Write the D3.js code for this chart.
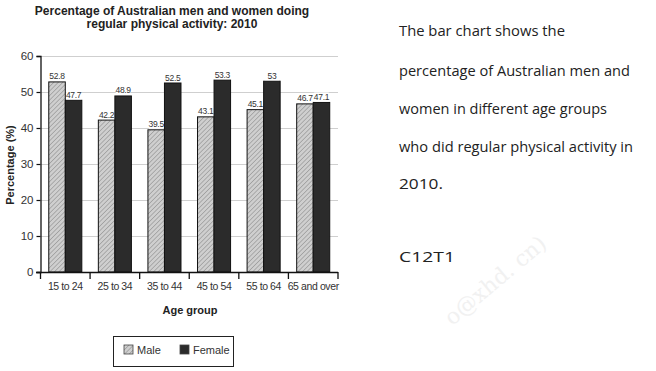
<!DOCTYPE html>
<html><head><meta charset="utf-8">
<script src="https://cdn.jsdelivr.net/npm/d3@7"></script>
<style>body{margin:0;background:#fff;} svg{display:block;} text{font-family:'Liberation Sans', Arial, sans-serif;}</style>
</head><body>
<svg id="c" width="656" height="371"></svg>
<script>
const categories = ["15 to 24","25 to 34","35 to 44","45 to 54","55 to 64","65 and over"];
const seriesNames = ["Male","Female"];
const maleValues = [52.8,42.2,39.5,43.1,45.1,46.7];
const femaleValues = [47.7,48.9,52.5,53.3,53,47.1];
const valueLabels = [["52.8","47.7"],["42.2","48.9"],["39.5","52.5"],["43.1","53.3"],["45.1","53"],["46.7","47.1"]];
const yTicks = [0,10,20,30,40,50,60];
const titleLines = ["Percentage of Australian men and women doing","regular physical activity: 2010"];
const noteLines = ["The bar chart shows the","percentage of Australian men and","women in different age groups","who did regular physical activity in","2010."];
const noteCode = "C12T1";

const svg = d3.select("#c");
const font = "'Liberation Sans', Arial, sans-serif";

const defs = svg.append("defs");
const pat = defs.append("pattern").attr("id","hatch").attr("patternUnits","userSpaceOnUse")
  .attr("width",3.2).attr("height",3.2).attr("patternTransform","rotate(45)");
pat.append("rect").attr("width",3.2).attr("height",3.2).attr("fill","#cfcfcf");
pat.append("line").attr("x1",0).attr("y1",0).attr("x2",0).attr("y2",3.2).attr("stroke","#8a8a8a").attr("stroke-width",1.1);

const x = d3.scaleBand().domain(categories).range([40.5,338]).paddingInner(0).paddingOuter(0);
const x1 = d3.scaleBand().domain(seriesNames).range([0,x.bandwidth()]).paddingInner(0).paddingOuter(0.5);
const y = d3.scaleLinear().domain([0,60]).range([272,56]);

// watermark
svg.append("text").attr("x",548).attr("y",246).attr("text-anchor","end")
  .attr("transform","rotate(-40,548,246)")
  .style("font-family","'DejaVu Serif', serif").attr("font-size",22).attr("fill","#f1f1f1")
  .text("o@xhd. cn)");

// title
svg.append("g").selectAll("text").data(titleLines).join("text")
  .attr("x",172).attr("y",(d,i)=>15+i*12.5).attr("text-anchor","middle")
  .style("font-family",font).attr("font-weight","bold").attr("font-size",12).attr("fill","#222")
  .text(d=>d);

// gridlines
svg.append("g").selectAll("line").data(yTicks.filter(t=>t>0)).join("line")
  .attr("x1",41).attr("x2",338).attr("y1",d=>Math.round(y(d))+0.5).attr("y2",d=>Math.round(y(d))+0.5)
  .attr("stroke","#cfcfcf").attr("stroke-width",1);

// y axis
const ya = svg.append("g").attr("transform","translate(40.5,0)")
  .call(d3.axisLeft(y).tickValues(yTicks).tickSize(4).tickPadding(3));
ya.select(".domain").attr("stroke","#111").attr("stroke-width",1.3);
ya.selectAll(".tick line").attr("stroke","#111").attr("stroke-width",1.2);
ya.selectAll("text").style("font-family",font).attr("font-size",11.5).attr("fill","#333");

// bars
const groups = svg.append("g").selectAll("g").data(categories).join("g")
  .attr("transform",d=>`translate(${x(d)},0)`);
groups.selectAll("rect").data((d,i)=>[{s:"Male",v:maleValues[i],l:valueLabels[i][0]},{s:"Female",v:femaleValues[i],l:valueLabels[i][1]}])
  .join("rect")
  .attr("x",d=>x1(d.s)).attr("width",x1.bandwidth())
  .attr("y",d=>y(d.v)).attr("height",d=>y(0)-y(d.v))
  .attr("fill",d=>d.s==="Male"?"url(#hatch)":"#2b2b2b")
  .attr("stroke","#111").attr("stroke-width",1);

// value labels
const lab = groups.selectAll("g.lab").data((d,i)=>[{s:"Male",v:maleValues[i],l:valueLabels[i][0]},{s:"Female",v:femaleValues[i],l:valueLabels[i][1]}])
  .join("g").attr("class","lab");
lab.append("rect").attr("x",d=>x1(d.s)+1).attr("width",x1.bandwidth()-2)
  .attr("y",d=>y(d.v)-10).attr("height",9).attr("fill","#fff");
lab.append("text").attr("x",d=>x1(d.s)+x1.bandwidth()/2).attr("y",d=>y(d.v)-2.5)
  .attr("text-anchor","middle").style("font-family",font).attr("font-size",8.5).style("letter-spacing","-0.3px").attr("fill","#333")
  .text(d=>d.l);

// x axis
const xa = svg.append("g").attr("transform","translate(0,272.5)")
  .call(d3.axisBottom(x).tickSize(0).tickPadding(10));
xa.select(".domain").remove();
xa.selectAll("text").style("font-family",font).attr("font-size",10.5).style("letter-spacing","-0.4px").attr("fill","#333");
svg.append("line").attr("x1",36).attr("x2",338).attr("y1",272.5).attr("y2",272.5).attr("stroke","#111").attr("stroke-width",1.3);
svg.append("g").selectAll("line").data(categories.map(c=>x(c)).concat([x(categories[categories.length-1])+x.bandwidth()]))
  .join("line").attr("x1",d=>d).attr("x2",d=>d).attr("y1",272).attr("y2",279)
  .attr("stroke","#111").attr("stroke-width",1.3);

// axis titles
svg.append("text").attr("x",190).attr("y",314).attr("text-anchor","middle")
  .style("font-family",font).attr("font-weight","bold").attr("font-size",11).attr("fill","#222").text("Age group");
svg.append("text").attr("transform","translate(14,165) rotate(-90)").attr("text-anchor","middle")
  .style("font-family",font).attr("font-weight","bold").attr("font-size",11).attr("fill","#222").text("Percentage (%)");

// legend
const lg = svg.append("g");
lg.append("rect").attr("x",113.5).attr("y",336.5).attr("width",120).attr("height",30)
  .attr("fill","#fff").attr("stroke","#222").attr("stroke-width",1);
const items = lg.selectAll("g").data(seriesNames).join("g")
  .attr("transform",(d,i)=>`translate(${i===0?124:180},345)`);
items.append("rect").attr("width",9).attr("height",9)
  .attr("fill",d=>d==="Male"?"url(#hatch)":"#2b2b2b").attr("stroke","#444").attr("stroke-width",0.8);
items.append("text").attr("x",13).attr("y",8.5).style("font-family",font).attr("font-size",11).attr("fill","#333").text(d=>d);

// note text
const noteWidths = [166,231,208,234,44];
svg.append("g").selectAll("text").data(noteLines).join("text")
  .attr("x",399).attr("y",(d,i)=>[36,76,114,152,189][i])
  .style("font-family","'Open Sans', sans-serif").attr("font-size",14).attr("fill","#222")
  .attr("textLength",(d,i)=>noteWidths[i]).attr("lengthAdjust","spacingAndGlyphs")
  .text(d=>d);
svg.append("text").attr("x",399).attr("y",262).style("font-family","'Open Sans', sans-serif").attr("font-size",14).attr("fill","#222")
  .attr("textLength",56).attr("lengthAdjust","spacingAndGlyphs").text(noteCode);
</script>
</body></html>
